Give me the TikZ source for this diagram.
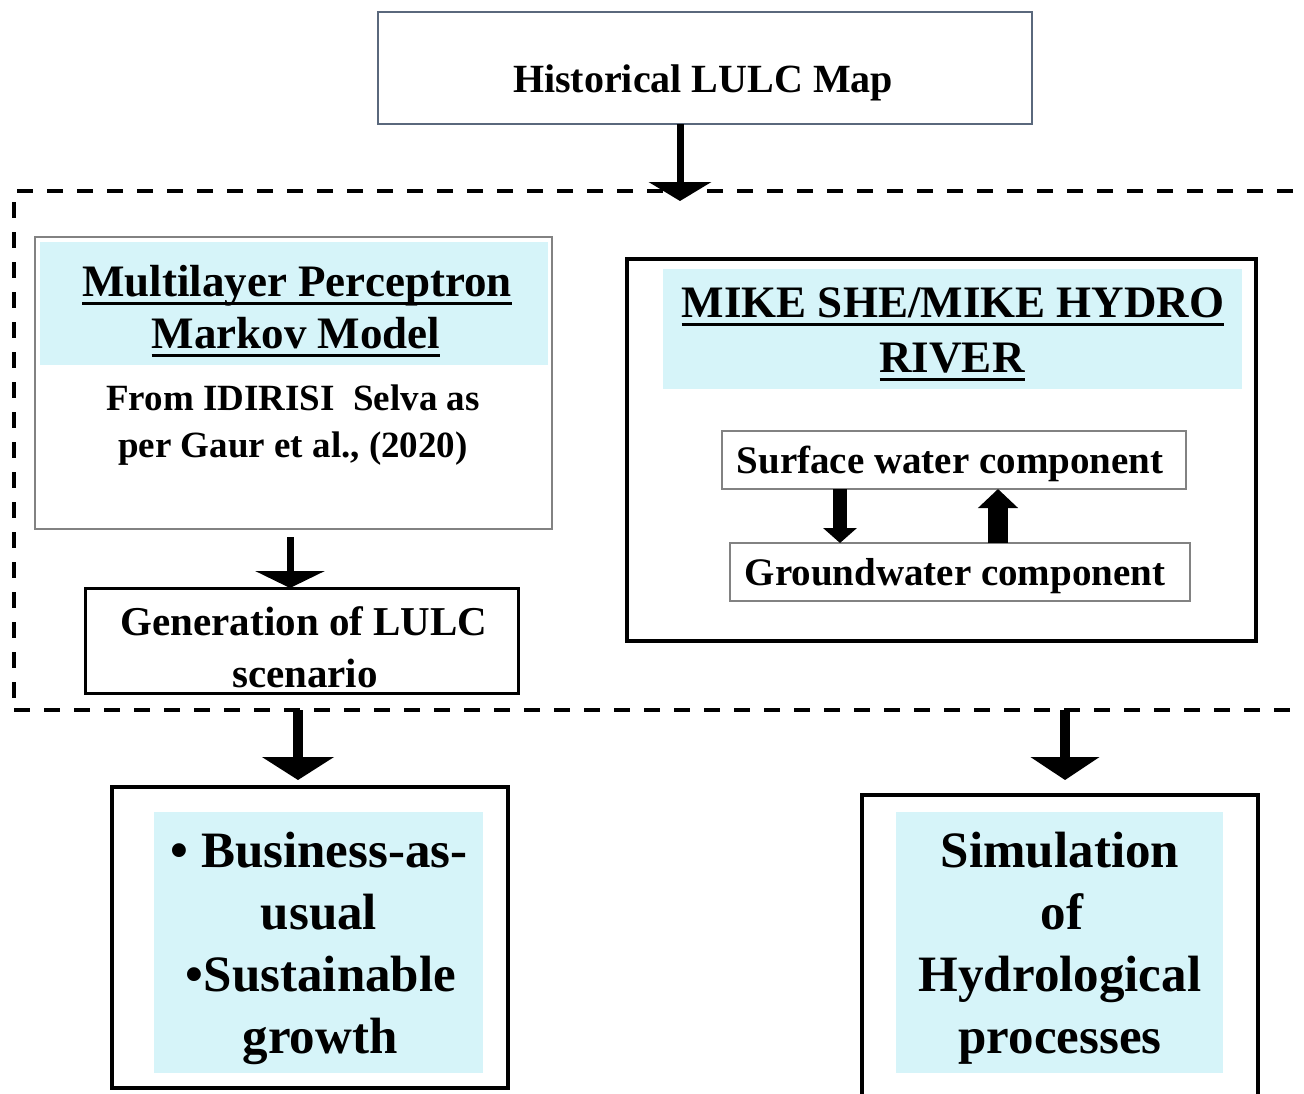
\documentclass[tikz,border=0pt]{standalone}
\usepackage{fontspec}
\setmainfont{Liberation Serif}
\usetikzlibrary{arrows.meta,calc}
\definecolor{cyanfill}{RGB}{214,244,249}
\definecolor{histgray}{RGB}{90,104,124}
\definecolor{boxgray}{RGB}{130,130,130}
\newcommand{\myul}[1]{\leavevmode\setbox0\hbox{#1}\rlap{\rule[-9pt]{\wd0}{3pt}}\box0}
\begin{document}
\begin{tikzpicture}[x=1pt,y=-1pt,
  box/.style={rectangle, anchor=north west, inner sep=0pt, outer sep=0pt},
  cyanbox/.style={box, fill=cyanfill, draw=none},
  txt/.style={inner sep=0pt, anchor=base},
  fs/.style={font=\bfseries\fontsize{#1}{#1}\selectfont},
  bigarr/.style n args={3}{line width=#1, -{Triangle[width=#2, length=#3]}},
]
\useasboundingbox (0,0) rectangle (1304,1093);
\clip (0,0) rectangle (1304,1093);

% ---- Historical LULC map
\node[box, draw=histgray, line width=2pt, minimum width=654pt, minimum height=112pt] (hist) at (378,12) {};
\node[txt, fs=40] (histT) at (703,92) {Historical LULC Map};

% ---- dashed frame
\node[box, draw, line width=4pt, dash pattern=on 16pt off 14pt, minimum width=1310pt, minimum height=519pt] (dash) at (14,191) {};

% ---- MLP box
\node[cyanbox, minimum width=508pt, minimum height=123pt] (mlpfill) at (40,242) {};
\node[box, draw=boxgray, line width=1.5pt, minimum width=517pt, minimum height=292pt] (mlp) at (35,237) {};
\node[txt, fs=45] (mlpT1) at (297,296) {\myul{Multilayer Perceptron}};
\node[txt, fs=45] (mlpT2) at (296,348) {\myul{Markov Model}};
\node[txt, fs=37] (mlpS1) at (293,410) {From IDIRISI\ \ Selva as};
\node[txt, fs=37] (mlpS2) at (293,457) {per Gaur et al., (2020)};

% ---- Generation box
\node[box, draw, line width=3pt, minimum width=433pt, minimum height=105pt] (gen) at (85,588) {};
\node[txt, fs=41] (genT1) at (304,635) {Generation of LULC};
\node[txt, fs=41] (genT2) at (305,687) {scenario};

% ---- MIKE box
\node[cyanbox, minimum width=579pt, minimum height=120pt] (mikefill) at (663,269) {};
\node[box, draw, line width=3.5pt, minimum width=629pt, minimum height=382pt] (mike) at (627,259) {};
\node[txt, fs=45] (mikeT1) at (953,317) {\myul{MIKE SHE/MIKE HYDRO}};
\node[txt, fs=45] (mikeT2) at (952,372) {\myul{RIVER}};

\node[box, draw=boxgray, line width=1.5pt, minimum width=464pt, minimum height=58pt] (surf) at (722,431) {};
\node[txt, fs=39] (surfT) at (950,473) {Surface water component};
\node[box, draw=boxgray, line width=1.5pt, minimum width=460pt, minimum height=58pt] (grnd) at (730,543) {};
\node[txt, fs=39] (grndT) at (955,585) {Groundwater component};

% ---- Business box
\node[cyanbox, minimum width=329pt, minimum height=261pt] (busfill) at (154,812) {};
\node[box, draw, line width=3.5pt, minimum width=396pt, minimum height=301pt] (bus) at (112,787) {};
\node[txt, fs=51] (busT1) at (319,867) {• Business-as-};
\node[txt, fs=51] (busT2) at (319,929) {usual};
\node[txt, fs=51] (busT3) at (321,991) {•Sustainable};
\node[txt, fs=51] (busT4) at (320,1053) {growth};

% ---- Simulation box
\node[cyanbox, minimum width=327pt, minimum height=261pt] (simfill) at (896,812) {};
\node[box, draw, line width=3.5pt, minimum width=396pt, minimum height=320pt] (sim) at (862,795) {};
\node[txt, fs=51] (simT1) at (1060,867) {Simulation};
\node[txt, fs=51] (simT2) at (1062,929) {of};
\node[txt, fs=51] (simT3) at (1060,991) {Hydrological};
\node[txt, fs=51] (simT4) at (1060,1053) {processes};

% ---- arrows
\coordinate (c1) at (680,201);
\draw[bigarr={7pt}{62pt}{19pt}] (hist.south -| c1) -- (c1);

\coordinate (c2) at (290,582);
\coordinate (c2s) at (290,537);
\draw[bigarr={7pt}{69pt}{17pt}] (c2s) -- (gen.north -| c2);

\coordinate (c3) at (840,0);
\draw[bigarr={14pt}{33pt}{15pt}] (surf.south -| c3) -- (grnd.north -| c3);
\coordinate (c4) at (998,0);
\draw[bigarr={20pt}{39pt}{19pt}] (grnd.north -| c4) -- (surf.south -| c4);

\coordinate (c5) at (298,780);
\draw[bigarr={10pt}{71pt}{23pt}] (dash.south -| c5) -- (c5);
\coordinate (c6) at (1065,780);
\draw[bigarr={10pt}{68pt}{23pt}] (dash.south -| c6) -- (c6);
\end{tikzpicture}
\end{document}
